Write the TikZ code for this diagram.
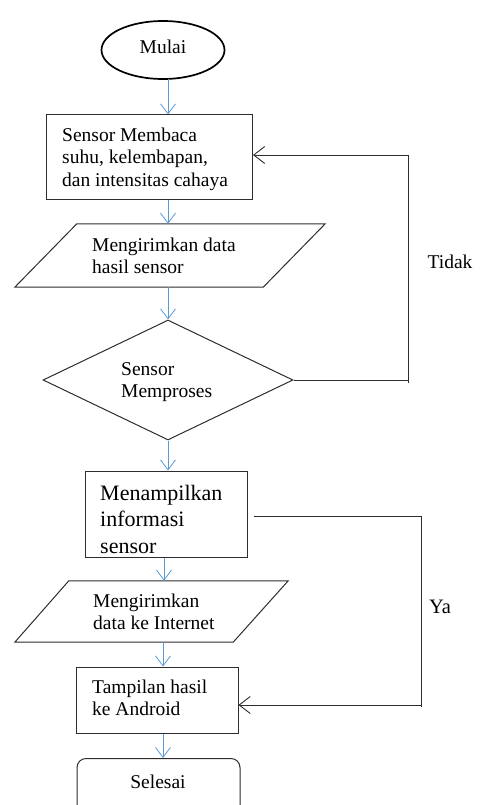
\documentclass[tikz,border=0pt]{standalone}
\usepackage{fontspec}
\setmainfont{Liberation Serif}
\usetikzlibrary{shapes.geometric,arrows.meta,calc}
\definecolor{flowblue}{RGB}{91,155,213}
\definecolor{edge}{RGB}{45,45,45}
\begin{document}
\begin{tikzpicture}[x=1pt,y=-1pt,
  shapeline/.style={draw=edge,line width=1pt},
  boxnode/.style={shapeline,rectangle,inner sep=0pt},
  txt/.style={inner sep=0pt,align=left,font=\fontsize{19.5}{22.5}\selectfont,text=black},
  bigtxt/.style={inner sep=0pt,align=left,font=\fontsize{22}{26.5}\selectfont,text=black},
  flow/.style={draw=flowblue,line width=0.8pt,-{Straight Barb[length=10pt,width=15pt]}},
  back/.style={draw=edge,line width=0.9pt},
  backarrow/.style={draw=edge,line width=0.9pt,-{Straight Barb[length=11pt,width=17pt]}}
]
\useasboundingbox (0,0) rectangle (481,805);
\clip (0,0) rectangle (481,805);

% spine coordinates
\coordinate (s1) at (168,0);
\coordinate (s2) at (164,0);
\coordinate (s3) at (163,0);

% shapes
\node[draw=black,line width=1.7pt,ellipse,minimum width=123pt,minimum height=58pt,inner sep=0pt] (start) at (163,50) {};
\node[boxnode,minimum width=206pt,minimum height=84pt] (read) at (149.5,157) {};
\node[minimum width=310pt,minimum height=63pt,inner sep=0pt] (send1) at (170,255.5) {};
\draw[shapeline] ($(send1.north west)+(62,0)$) -- (send1.north east) -- ($(send1.south east)-(62,0)$) -- (send1.south west) -- cycle;
\node[shapeline,diamond,minimum width=250pt,minimum height=120pt,inner sep=0pt] (proc) at (168,380) {};
\node[boxnode,minimum width=162pt,minimum height=86pt] (show) at (166,514) {};
\node[minimum width=273pt,minimum height=61pt,inner sep=0pt] (send2) at (151.5,611.5) {};
\draw[shapeline] ($(send2.north west)+(54,0)$) -- (send2.north east) -- ($(send2.south east)-(55,0)$) -- (send2.south west) -- cycle;
\node[boxnode,minimum width=162pt,minimum height=66pt] (andro) at (157,700) {};
\node[boxnode,rounded corners=9pt,minimum width=163pt,minimum height=56pt,anchor=north] (stop) at (158.5,758) {};

% texts
\node[txt] (tstart) at (163,47) {Mulai};
\node[txt,anchor=west] (tread) at (62,159) {Sensor Membaca\\suhu, kelembapan,\\dan intensitas cahaya};
\node[txt,anchor=west] (tsend1) at (92,256) {Mengirimkan data\\hasil sensor};
\node[txt,anchor=west] (tproc) at (121,382) {Sensor\\Memproses};
\node[bigtxt,anchor=west] (tshow) at (100,519) {Menampilkan\\informasi\\sensor};
\node[txt,anchor=west] (tsend2) at (93,612) {Mengirimkan\\data ke Internet};
\node[txt,anchor=west] (tandro) at (92,698) {Tampilan hasil\\ke Android};
\node[txt] (tstop) at (158,782) {Selesai};
\node[txt] (tidak) at (450,262) {Tidak};
\node[txt,font=\fontsize{20.5}{24}\selectfont] (ya) at (440,607) {Ya};

% main flow
\draw[flow] (start.south -| s1) ++(0,-1) -- (read.north -| s1);
\draw[flow] (read.south -| s1) -- (send1.north -| s1);
\draw[flow] (send1.south -| s1) -- (proc.north);
\draw[flow] (proc.south -| s1) -- (show.north -| s1);
\draw[flow] (show.south -| s2) -- (send2.north -| s2);
\draw[flow] (send2.south -| s3) -- (andro.north -| s3);
\draw[flow] (andro.south -| s3) -- (stop.north -| s3);

% feedback: Tidak
\coordinate (t1) at (408,380);
\coordinate (t2) at (408,155);
\coordinate (t3) at (408,383);
\draw[back] (proc.east) -- (t1);
\draw[backarrow] (t3) -- (t2) -- (read.east |- t2);

% feedback: Ya
\coordinate (y1) at (421,516);
\coordinate (y2) at (421,705);
\coordinate (y3) at (421,707);
\draw[back] ($(show.east |- y1)+(6,0)$) -- (y1) -- (y3);
\draw[backarrow] (y2) -- (andro.east |- y2);
\end{tikzpicture}
\end{document}
